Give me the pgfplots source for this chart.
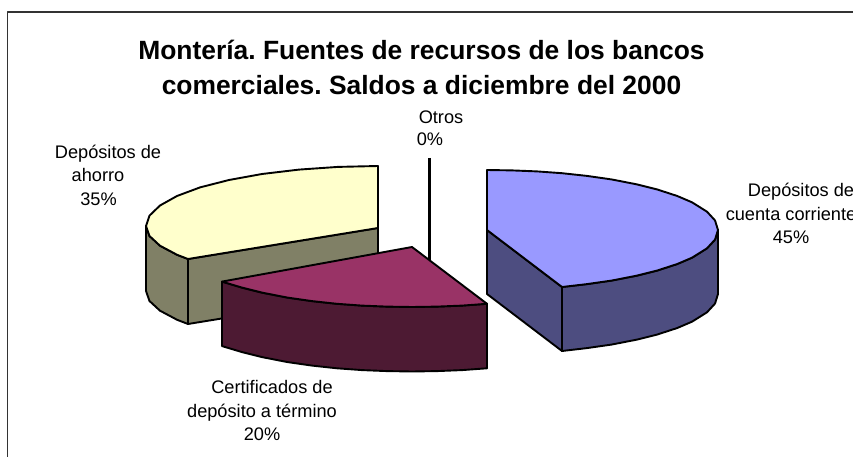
\documentclass[border=0pt]{standalone}
\usepackage{fontspec}
\setmainfont{Liberation Sans}
\usepackage{pgfplots}
\pgfplotsset{compat=1.18}
\definecolor{blueT}{HTML}{9999FF}
\definecolor{blueS}{HTML}{4D4D80}
\definecolor{marT}{HTML}{993366}
\definecolor{marS}{HTML}{4D1A33}
\definecolor{yelT}{HTML}{FFFFCC}
\definecolor{yelS}{HTML}{808066}
\begin{document}
\frenchspacing
\begin{tikzpicture}[x=1pt,y=1pt,
  ttl/.style={anchor=base,inner sep=0pt,font=\fontsize{26.4}{30}\selectfont\bfseries},
  lab/.style={anchor=base,inner sep=0pt,font=\fontsize{18.2}{21}\selectfont}]
\path[use as bounding box] (0,0) rectangle (853pt,457pt);
\clip (0,0) rectangle (853pt,457pt);
\begin{axis}[at={(0,0)},anchor=south west,width=853pt,height=457pt,scale only axis,
  xmin=0,xmax=853,ymin=0,ymax=457,y dir=reverse,axis lines=none,clip=false,
  every axis plot/.append style={line width=1.9pt,line join=round,line cap=round,draw=black}]
% frame
\addplot[line width=1.4pt,draw=black!80,line cap=butt] coordinates {(7.5,460) (7.5,12) (860,12)};
% yellow: depositos de ahorro
\addplot[fill=yelS] coordinates {(188,259) (378,228) (378,293) (188,324)} --cycle;
\addplot[fill=yelS] coordinates {(146,226) (149.5,236) (160,245.7) (177.1,254.8) (188,259) (188,324) (177.1,319.8) (160,310.7) (149.5,301) (146,291)} --cycle;
\addplot[fill=yelT] coordinates {(378,166) (338,166.9) (299,169.6) (262,174) (229,180) (200,187.4) (177,196) (160,205.5) (149.5,215.6) (146,226) (149.5,236) (160,245.7) (177.1,254.8) (188,259) (378,228)} --cycle;
% otros: 0 percent
\addplot[line width=2.5pt,line cap=butt] coordinates {(429.3,158) (429.3,262)};
% blue: cuenta corriente
\addplot[fill=blueS] coordinates {(487,230) (562,287) (562,351) (487,294)} --cycle;
\addplot[fill=blueS] coordinates {(562,287) (587,284.1) (612,280.5) (637,275.6) (657,270.6) (677,264.1) (692,257.7) (707,248.3) (715,239.6) (718,230) (718,294) (715,303.6) (707,312.3) (692,321.7) (677,328.1) (657,334.6) (637,339.6) (612,344.5) (587,348.1) (562,351)} --cycle;
\addplot[fill=blueT] coordinates {(487,170) (512,170.4) (537,171.4) (562,173.2) (587,175.9) (612,179.5) (637,184.4) (657,189.4) (677,195.9) (692,202.3) (707,211.7) (715,220.4) (718,230) (715,239.6) (707,248.3) (692,257.7) (677,264.1) (657,270.6) (637,275.6) (612,280.5) (587,284.1) (562,287) (487,230)} --cycle;
% maroon: certificados
\addplot[fill=marS] coordinates {(222,281.6) (242,287.6) (262,292.6) (287,297.5) (312,301.1) (337,303.8) (362,305.6) (387,306.6) (412,307) (437,306.6) (462,305.6) (487,303.8) (487,368.3) (462,370.1) (437,371.1) (412,371.5) (387,371.1) (362,370.1) (337,368.3) (312,365.6) (287,362) (262,357.1) (242,352.1) (222,346.1)} --cycle;
\addplot[fill=marT] coordinates {(412,247) (222,281.6) (242,287.6) (262,292.6) (287,297.5) (312,301.1) (337,303.8) (362,305.6) (387,306.6) (412,307) (437,306.6) (462,305.6) (487,303.8)} --cycle;
% texts
\node[ttl] at (axis cs:421.5,59.5) {Montería. Fuentes de recursos de los bancos};
\node[ttl] at (axis cs:421.5,94.5) {comerciales. Saldos a diciembre del 2000};
\node[lab] at (axis cs:441,123.5) {Otros};
\node[lab] at (axis cs:430,146) {0\%};
\node[lab] at (axis cs:108,158.5) {Depósitos de};
\node[lab] at (axis cs:98,182) {ahorro};
\node[lab] at (axis cs:98.5,205) {35\%};
\node[lab] at (axis cs:801,196.5) {Depósitos de};
\node[lab] at (axis cs:791,220) {cuenta corriente};
\node[lab] at (axis cs:791,243.5) {45\%};
\node[lab] at (axis cs:272,393.5) {Certificados de};
\node[lab] at (axis cs:262,417) {depósito a término};
\node[lab] at (axis cs:262,440.5) {20\%};
\end{axis}
\end{tikzpicture}
\end{document}
